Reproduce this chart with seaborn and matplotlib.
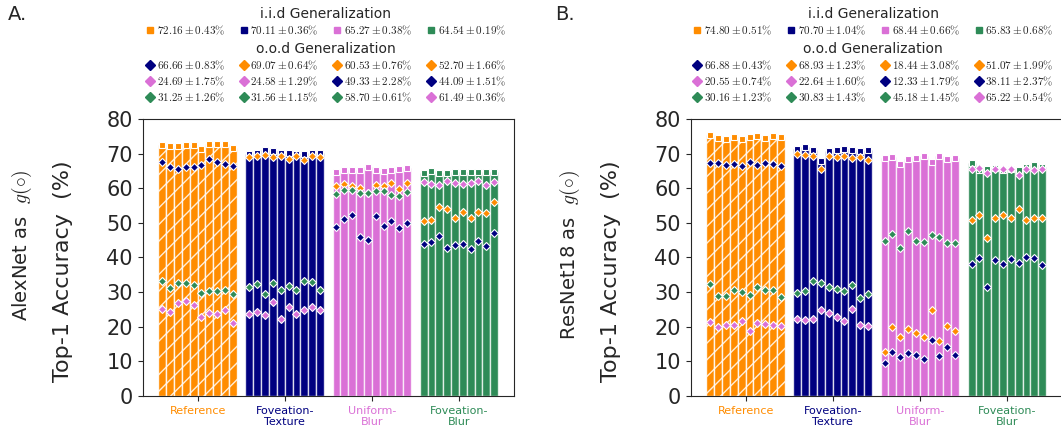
import numpy as np
import pandas as pd
import matplotlib
matplotlib.use("Agg")
import matplotlib.pyplot as plt
from matplotlib.lines import Line2D
import seaborn as sns

# ── Data ───────────────────────────────────────────────────────────────────────
groups = ["Reference", "Foveation-Texture", "Uniform-Blur", "Foveation-Blur"]
group_ticklabels = ["Reference", "Foveation-\nTexture", "Uniform-\nBlur", "Foveation-\nBlur"]
runs = list(range(10))

# colours of the four training conditions
cond_colors = ["darkorange", "navy", "orchid", "seagreen"]

# --- panel A : AlexNet ---
alex_iid_ref = [72.4, 72.2, 72.1, 72.4, 72.4, 71.3, 72.7, 72.8, 72.9, 71.7]
alex_iid_tex = [69.9, 70.3, 71.0, 70.7, 70.2, 70.2, 69.9, 70.0, 70.1, 70.1]
alex_iid_ublur = [64.7, 65.4, 65.3, 65.4, 66.0, 65.2, 64.9, 65.4, 65.5, 65.8]
alex_iid_fblur = [64.3, 64.9, 64.5, 64.4, 64.8, 64.8, 64.6, 64.8, 64.8, 64.6]

# o.o.d accuracy, one list per (trained model, test condition)
alex_ref_on_tex = [67.6, 66.0, 65.5, 66.0, 66.2, 66.6, 68.3, 67.7, 67.1, 66.4]
alex_ref_on_ublur = [25.0, 24.4, 26.9, 27.4, 26.4, 22.8, 24.1, 23.8, 24.7, 21.1]
alex_ref_on_fblur = [33.2, 31.1, 32.5, 32.7, 32.1, 29.7, 30.3, 30.4, 30.7, 29.4]
alex_tex_on_ref = [68.9, 69.4, 69.6, 69.1, 69.4, 68.5, 69.4, 68.2, 69.4, 69.0]
alex_tex_on_ublur = [23.6, 24.4, 23.4, 27.0, 22.3, 25.6, 23.6, 24.8, 25.7, 24.7]
alex_tex_on_fblur = [31.6, 32.4, 29.4, 32.6, 30.7, 31.7, 30.6, 33.2, 32.9, 30.5]
alex_ublur_on_ref = [60.6, 61.1, 60.7, 60.2, 58.6, 60.9, 60.7, 61.4, 59.9, 61.4]
alex_ublur_on_tex = [48.9, 51.2, 52.4, 46.0, 45.1, 51.9, 49.2, 50.4, 48.6, 50.0]
alex_ublur_on_fblur = [58.2, 59.6, 59.6, 58.7, 58.6, 59.1, 59.1, 58.0, 57.7, 58.8]
alex_fblur_on_ref = [50.6, 50.9, 54.5, 54.1, 51.4, 53.1, 51.3, 53.2, 52.9, 55.9]
alex_fblur_on_tex = [43.9, 44.4, 46.2, 42.6, 43.7, 43.9, 42.4, 44.9, 43.3, 47.1]
alex_fblur_on_ublur = [61.7, 61.3, 61.0, 62.1, 61.6, 61.2, 61.6, 62.1, 61.0, 61.8]

alex_iid_legend = ["72.16 \\pm 0.43", "70.11 \\pm 0.36", "65.27 \\pm 0.38", "64.54 \\pm 0.19"]
alex_ood_legend = ["66.66 \\pm 0.83", "24.69 \\pm 1.75", "31.25 \\pm 1.26",
                   "69.07 \\pm 0.64", "24.58 \\pm 1.29", "31.56 \\pm 1.15",
                   "60.53 \\pm 0.76", "49.33 \\pm 2.28", "58.70 \\pm 0.61",
                   "52.70 \\pm 1.66", "44.09 \\pm 1.51", "61.49 \\pm 0.36"]

# --- panel B : ResNet18 ---
res_iid_ref = [75.4, 74.4, 74.2, 74.9, 74.2, 74.8, 75.2, 74.4, 75.0, 74.9]
res_iid_tex = [71.3, 71.8, 71.0, 67.8, 70.8, 70.9, 71.2, 70.9, 70.8, 71.1]
res_iid_ublur = [68.7, 68.9, 67.0, 68.4, 68.7, 69.2, 67.7, 69.2, 68.4, 68.8]
res_iid_fblur = [67.4, 65.3, 65.5, 65.7, 65.4, 65.5, 65.2, 66.2, 66.7, 66.0]

res_ref_on_tex = [67.4, 67.2, 66.7, 67.0, 66.3, 67.5, 66.6, 67.4, 66.9, 66.4]
res_ref_on_ublur = [21.4, 20.0, 20.5, 20.4, 21.7, 18.9, 21.2, 20.7, 20.4, 20.1]
res_ref_on_fblur = [32.4, 28.8, 28.9, 30.6, 30.1, 29.1, 31.5, 30.7, 30.6, 28.6]
res_tex_on_ref = [69.8, 69.7, 69.2, 65.6, 69.3, 69.1, 69.4, 68.6, 69.1, 68.2]
res_tex_on_ublur = [22.1, 21.9, 22.3, 24.9, 24.0, 22.8, 21.7, 25.2, 20.4, 20.3]
res_tex_on_fblur = [29.7, 30.3, 33.3, 32.5, 31.6, 30.9, 30.4, 32.1, 28.2, 29.5]
res_ublur_on_ref = [12.6, 19.8, 17.0, 19.4, 18.3, 16.9, 24.9, 15.8, 20.3, 18.9]
res_ublur_on_tex = [9.4, 12.7, 11.4, 12.3, 11.8, 10.8, 16.2, 11.5, 14.2, 11.8]
res_ublur_on_fblur = [44.9, 46.9, 42.6, 47.7, 44.9, 44.4, 46.5, 45.9, 44.2, 44.1]
res_fblur_on_ref = [50.9, 52.2, 45.7, 51.4, 52.3, 51.3, 54.0, 50.7, 51.5, 51.3]
res_fblur_on_tex = [38.1, 39.9, 31.4, 39.4, 38.1, 39.5, 38.3, 40.0, 39.9, 37.8]
res_fblur_on_ublur = [65.6, 65.8, 64.3, 65.6, 65.5, 65.5, 63.7, 65.5, 65.2, 65.5]

res_iid_legend = ["74.80 \\pm 0.51", "70.70 \\pm 1.04", "68.44 \\pm 0.66", "65.83 \\pm 0.68"]
res_ood_legend = ["66.88 \\pm 0.43", "20.55 \\pm 0.74", "30.16 \\pm 1.23",
                  "68.93 \\pm 1.23", "22.64 \\pm 1.60", "30.83 \\pm 1.43",
                  "18.44 \\pm 3.08", "12.33 \\pm 1.79", "45.18 \\pm 1.45",
                  "51.07 \\pm 1.99", "38.11 \\pm 2.37", "65.22 \\pm 0.54"]

# which test condition colour goes with each o.o.d series (per trained model)
ood_color_idx = [[1, 2, 3], [0, 2, 3], [0, 1, 3], [0, 1, 2]]


# ── Style ──────────────────────────────────────────────────────────────────────
sns.set_style("ticks")
plt.rcParams["font.family"] = ["DejaVu Sans"]
plt.rcParams["mathtext.fontset"] = "cm"
plt.rcParams["hatch.linewidth"] = 1.0


def draw_panel(ax, iid, ood, iid_legend, ood_legend, model_name, legend_x):
    df = pd.DataFrame({
        "group": np.repeat(groups, len(runs)),
        "run": runs * len(groups),
        "acc": np.concatenate(iid),
    })
    sns.barplot(data=df, x="group", y="acc", hue="run", order=groups,
                width=0.9, errorbar=None, legend=False,
                palette=["grey"] * len(runs), ax=ax)

    # recolour bars by training condition, collect bar centres
    centres = np.zeros((len(groups), len(runs)))
    for r, cont in enumerate(ax.containers):
        for g, bar in enumerate(cont):
            bar.set_facecolor(cond_colors[g])
            bar.set_edgecolor((1, 1, 1, 0.75))
            bar.set_linewidth(1.0)
            if g == 0:
                bar.set_hatch("//")
                bar.set_edgecolor((1, 1, 1, 0.85))
            centres[g, r] = bar.get_x() + bar.get_width() / 2

    # i.i.d. markers on top of the bars
    for g in range(len(groups)):
        ax.plot(centres[g], iid[g], ls="", marker="s", ms=4.6,
                color=cond_colors[g], mec="white", mew=0.8, zorder=4)

    # o.o.d. diamonds
    for g in range(len(groups)):
        for k in range(3):
            ax.plot(centres[g], ood[g][k], ls="", marker="D", ms=4.4,
                    color=cond_colors[ood_color_idx[g][k]], mec="white",
                    mew=0.8, zorder=5)

    ax.set_ylim(0, 80)
    ax.set_yticks(range(0, 81, 10))
    ax.set_xlim(-0.63, 3.63)
    ax.set_xticks(range(len(groups)))
    ax.set_xticklabels(group_ticklabels, fontsize=8)
    for lab, c in zip(ax.get_xticklabels(), cond_colors):
        lab.set_color(c)
    ax.tick_params(axis="y", labelsize=15)
    ax.set_xlabel("")
    ax.set_ylabel("")
    for side in ["top", "right"]:
        ax.spines[side].set_visible(True)

    ax.text(-0.216, 0.451, "Top-1 Accuracy  (%)", rotation=90, fontsize=16,
            ha="center", va="center", transform=ax.transAxes)
    ax.text(-0.326, 0.816, model_name + r" as  $g(\circ)$", rotation=90,
            fontsize=14, ha="center", va="top", transform=ax.transAxes)

    # legends
    iid_handles = [Line2D([], [], ls="", marker="s", ms=5, color=c)
                   for c in cond_colors]
    ood_handles = []
    for g in range(len(groups)):
        for k in range(3):
            ood_handles.append(Line2D([], [], ls="", marker="D", ms=5,
                                      color=cond_colors[ood_color_idx[g][k]]))
    common = dict(frameon=False, ncol=4, fontsize=8, title_fontsize=10,
                  handlelength=0.8, handletextpad=0.2, columnspacing=1.3,
                  borderpad=0, labelspacing=0.25, loc="upper center",
                  bbox_transform=ax.figure.transFigure)
    leg1 = ax.legend(iid_handles, [f"${s}\\%$" for s in iid_legend],
                     title="i.i.d Generalization",
                     bbox_to_anchor=(legend_x, 0.997), **common)
    ax.add_artist(leg1)
    ax.legend(ood_handles, [f"${s}\\%$" for s in ood_legend],
              title="o.o.d Generalization",
              bbox_to_anchor=(legend_x, 0.916), **common)


fig = plt.figure(figsize=(10.61, 4.28), dpi=100)
ax_a = fig.add_axes([0.1345, 0.0748, 0.3497, 0.6472])
ax_b = fig.add_axes([0.6510, 0.0748, 0.3497, 0.6472])

draw_panel(
    ax_a,
    [alex_iid_ref, alex_iid_tex, alex_iid_ublur, alex_iid_fblur],
    [[alex_ref_on_tex, alex_ref_on_ublur, alex_ref_on_fblur],
     [alex_tex_on_ref, alex_tex_on_ublur, alex_tex_on_fblur],
     [alex_ublur_on_ref, alex_ublur_on_tex, alex_ublur_on_fblur],
     [alex_fblur_on_ref, alex_fblur_on_tex, alex_fblur_on_ublur]],
    alex_iid_legend, alex_ood_legend, "AlexNet", 0.307)

draw_panel(
    ax_b,
    [res_iid_ref, res_iid_tex, res_iid_ublur, res_iid_fblur],
    [[res_ref_on_tex, res_ref_on_ublur, res_ref_on_fblur],
     [res_tex_on_ref, res_tex_on_ublur, res_tex_on_fblur],
     [res_ublur_on_ref, res_ublur_on_tex, res_ublur_on_fblur],
     [res_fblur_on_ref, res_fblur_on_tex, res_fblur_on_ublur]],
    res_iid_legend, res_ood_legend, "ResNet18", 0.823)

fig.text(0.0075, 0.965, "A.", fontsize=14, va="center", ha="left")
fig.text(0.523, 0.965, "B.", fontsize=14, va="center", ha="left")

fig.savefig("out.png", dpi=100)
